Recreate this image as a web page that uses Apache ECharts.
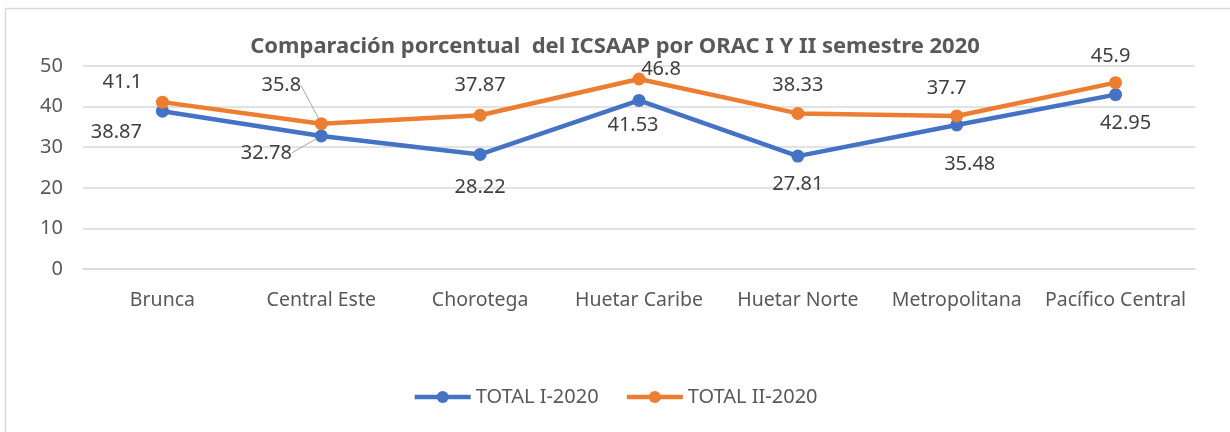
<!DOCTYPE html>
<html>
<head>
<meta charset="utf-8">
<script src="https://cdn.jsdelivr.net/npm/echarts@6/dist/echarts.min.js"></script>
<style>
  html, body { margin: 0; padding: 0; background: #fff; }
  #chart { width: 1230px; height: 432px; }
</style>
</head>
<body>
<div id="chart"></div>
<script>
// datos
var regiones = ['Brunca', 'Central Este', 'Chorotega', 'Huetar Caribe', 'Huetar Norte', 'Metropolitana', 'Pacífico Central'];
var totalI = [38.87, 32.78, 28.22, 41.53, 27.81, 35.48, 42.95];
var totalII = [41.1, 35.8, 37.87, 46.8, 38.33, 37.7, 45.9];
var nombres = ['TOTAL I-2020', 'TOTAL II-2020'];
var yTicks = [0, 10, 20, 30, 40, 50];

// desplazamiento de las etiquetas (como en el original de Excel)
var offI = [[-46, 21], [-55, 17], [0, 33], [-6, 25], [0, 28], [13, 39], [10, 29]];
var offII = [[-40, -20], [-40, -38], [0, -30], [22, -10], [0, -28], [-10, -28], [-5, -26]];

var myChart = echarts.init(document.getElementById('chart'));

function serie(nombre, valores, offs, color) {
  return {
    name: nombre,
    type: 'line',
    data: valores.map(function (v, i) {
      return { value: v, labelLine: { show: i === 1 } };
    }),
    symbol: 'circle',
    symbolSize: 13,
    color: color,
    lineStyle: { width: 4.5, color: color },
    itemStyle: { color: color },
    label: {
      show: true,
      position: 'inside',
      color: '#404040',
      fontSize: 20,
      fontFamily: 'Noto Sans'
    },
    labelLine: { show: false, lineStyle: { color: '#a6a6a6', width: 1 } },
    labelLayout: function (p) {
      var o = offs[p.dataIndex];
      return { dx: o[0], dy: o[1] };
    },
    emphasis: { disabled: true },
    animation: false
  };
}

myChart.setOption({
  backgroundColor: '#fff',
  title: {
    text: 'Comparación porcentual  del ICSAAP por ORAC I Y II semestre 2020',
    left: 'center',
    top: 31,
    textStyle: { fontFamily: 'Noto Sans', fontSize: 22, fontWeight: 'bold', color: '#595959' }
  },
  legend: {
    bottom: 20,
    left: 'center',
    itemWidth: 56,
    itemHeight: 15,
    itemGap: 26,
    lineStyle: { width: 4.5 },
    textStyle: { fontFamily: 'Noto Sans', fontSize: 20, color: '#595959' },
    data: nombres
  },
  grid: { left: 83, right: 35, top: 66, bottom: 163 },
  xAxis: {
    type: 'category',
    data: regiones,
    boundaryGap: true,
    axisLine: { show: true, lineStyle: { color: '#d9d9d9', width: 1.5 } },
    axisTick: { show: false },
    axisLabel: { interval: 0, margin: 21, fontFamily: 'Noto Sans', fontSize: 19.5, color: '#595959' }
  },
  yAxis: {
    type: 'value',
    min: yTicks[0],
    max: yTicks[yTicks.length - 1],
    interval: 10,
    axisLine: { show: false },
    axisTick: { show: false },
    splitLine: { lineStyle: { color: '#d9d9d9', width: 1.5 } },
    axisLabel: { margin: 20, fontFamily: 'Noto Sans', fontSize: 20, color: '#595959' }
  },
  graphic: [{
    type: 'rect',
    shape: { x: 5.5, y: 8.5, width: 1240, height: 440 },
    style: { fill: 'none', stroke: '#d9d9d9', lineWidth: 1.5 },
    silent: true
  }],
  series: [
    serie(nombres[0], totalI, offI, '#4472c4'),
    serie(nombres[1], totalII, offII, '#ed7d31')
  ]
});
</script>
</body>
</html>
